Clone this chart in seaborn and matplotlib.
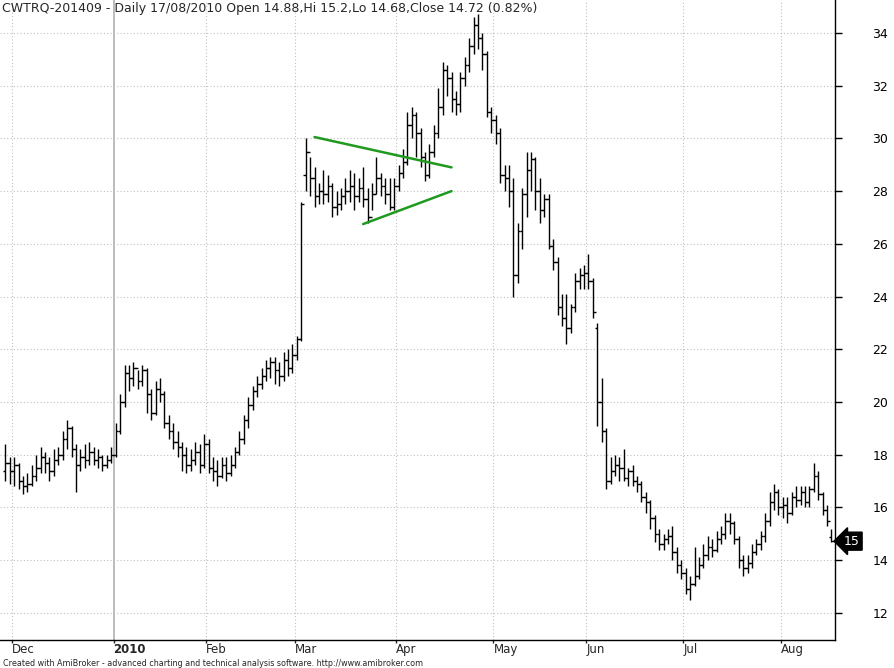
import matplotlib as mpl
mpl.use("Agg")
import matplotlib.pyplot as plt
import numpy as np
import pandas as pd
import seaborn as sns

# daily bars, month by month (Nov 2009 tail .. Aug 17 2010)
opens = [17.4, 17.7,
         17.4, 17.6, 17.0, 16.8, 16.9, 17.2, 17.5, 17.9, 17.7, 17.4, 17.8, 18.0, 18.6, 19.0, 18.2, 17.6, 17.9, 17.8, 18.1, 17.8, 17.9, 17.6, 17.8,
         18.0, 18.9, 20.0, 21.1, 20.9, 21.3, 20.8, 21.2, 20.3, 19.6, 20.5, 20.3, 19.2, 18.9, 18.5, 18.3, 18.0, 17.6, 17.8, 18.1, 17.6,
         18.4, 17.5, 17.4, 17.2, 17.6, 17.3, 17.6, 18.1, 18.6, 19.3, 19.9, 20.4, 20.7, 21.0, 21.3, 21.5, 21.2, 21.0, 21.6, 21.3,
         21.8, 22.4, 28.6, 29.5, 28.5, 27.8, 28.0, 27.9, 28.2, 27.4, 27.5, 27.8, 28.0, 28.2, 27.8, 28.1, 27.7, 27.0, 27.9, 28.5, 28.2, 27.9, 27.4,
         28.2, 28.7, 29.1, 30.5, 30.9, 30.2, 29.3, 28.6, 29.5, 30.2, 31.2, 32.6, 32.3, 31.5, 31.3, 32.3, 32.8, 33.5, 34.3, 33.8, 33.2, 31.0,
         30.7, 30.2, 28.6, 28.5, 28.0, 24.8, 26.5, 27.9, 28.8, 29.2, 28.0, 27.3, 27.7, 25.9, 25.3, 23.6, 23.2, 22.8, 23.6, 24.6, 24.8,
         24.9, 24.6, 22.8, 20.0, 18.9, 17.0, 17.4, 17.6, 17.5, 17.1, 17.4, 17.0, 16.9, 16.4, 16.2, 15.6, 15.0, 14.6, 14.8, 14.9, 14.3, 13.8,
         13.5, 12.9, 13.1, 13.4, 13.8, 14.2, 14.5, 14.4, 14.8, 15.0, 15.5, 15.4, 14.8, 14.0, 13.7, 13.9, 14.3, 14.6, 14.9, 15.5, 16.2, 16.6,
         16.0, 16.1, 15.8, 16.4, 16.3, 16.6, 16.2, 16.7, 17.2, 16.5, 15.9, 14.88]
highs = [18.4, 17.9,
         17.9, 17.7, 17.2, 17.3, 17.6, 18.0, 18.3, 18.1, 17.9, 18.2, 18.3, 18.9, 19.3, 19.1, 18.4, 18.2, 18.4, 18.5, 18.3, 18.2, 18.0, 18.0, 18.3,
         19.2, 20.3, 21.4, 21.4, 21.5, 21.2, 21.4, 21.3, 20.5, 20.8, 20.9, 20.4, 19.5, 19.2, 18.9, 18.5, 18.3, 18.2, 18.5, 18.4, 18.8,
         18.6, 17.9, 17.8, 17.9, 17.9, 18.0, 18.3, 18.9, 19.5, 20.2, 20.6, 21.0, 21.3, 21.6, 21.7, 21.7, 21.5, 21.9, 22.0, 22.2,
         22.5, 27.6, 30.0, 29.3, 28.9, 28.3, 28.8, 28.6, 28.3, 28.0, 28.1, 28.5, 28.8, 28.7, 28.5, 28.9, 28.1, 28.3, 29.3, 28.7, 28.5, 28.5, 28.5,
         29.0, 29.6, 31.0, 31.2, 31.0, 30.4, 29.5, 29.8, 30.5, 31.9, 32.9, 32.8, 32.5, 31.8, 32.5, 33.1, 33.8, 34.6, 34.7, 34.0, 33.3, 31.2,
         30.9, 30.4, 29.0, 29.0, 28.5, 26.8, 28.1, 29.5, 29.5, 29.3, 28.5, 27.9, 27.9, 26.2, 25.5, 24.1, 24.1, 23.7, 24.9, 25.1, 25.2,
         25.6, 24.7, 23.0, 20.9, 19.0, 17.9, 18.0, 17.9, 18.2, 17.5, 17.6, 17.2, 17.0, 16.6, 16.3, 15.7, 15.2, 15.0, 15.2, 15.3, 14.5, 14.0,
         13.7, 13.4, 14.5, 14.1, 14.6, 14.9, 14.8, 15.1, 15.3, 15.8, 15.8, 15.5, 14.9, 14.2, 14.2, 14.6, 14.8, 15.1, 15.8, 16.6, 16.9, 16.7,
         16.4, 16.4, 16.6, 16.8, 16.8, 16.8, 16.8, 17.7, 17.4, 16.6, 16.1, 15.2]
lows = [17.0, 16.9,
        16.8, 16.7, 16.5, 16.6, 16.8, 17.0, 17.3, 17.3, 17.0, 17.2, 17.6, 17.8, 18.2, 17.9, 16.6, 17.4, 17.5, 17.6, 17.6, 17.5, 17.4, 17.5, 17.7,
        17.9, 18.8, 19.8, 20.4, 20.6, 20.5, 20.6, 19.6, 19.3, 19.5, 20.0, 19.0, 18.6, 18.2, 17.9, 17.4, 17.3, 17.4, 17.6, 17.3, 17.5,
        17.3, 17.0, 16.8, 17.1, 17.0, 17.2, 17.5, 18.0, 18.4, 19.0, 19.7, 20.2, 20.5, 20.8, 20.9, 20.7, 20.6, 20.8, 21.0, 21.1,
        21.6, 22.3, 28.0, 27.8, 27.4, 27.5, 27.5, 27.6, 27.0, 27.1, 27.3, 27.5, 27.6, 27.3, 27.6, 27.4, 26.8, 27.3, 27.9, 27.8, 27.5, 27.3, 27.3,
        28.0, 28.5, 29.0, 30.0, 29.3, 28.9, 28.4, 28.5, 29.3, 30.0, 30.9, 31.6, 31.0, 30.9, 31.0, 32.0, 32.5, 33.2, 33.4, 32.6, 30.8, 30.2,
        29.8, 28.3, 28.0, 27.4, 24.0, 24.5, 25.8, 27.0, 28.0, 27.3, 26.8, 27.0, 25.8, 25.0, 23.3, 22.9, 22.2, 22.6, 23.4, 24.3, 24.3,
        24.3, 23.2, 19.1, 18.5, 16.7, 16.9, 17.2, 17.0, 17.0, 16.8, 16.8, 16.6, 16.2, 15.8, 15.2, 14.7, 14.4, 14.4, 14.6, 14.0, 13.5, 13.3,
        12.7, 12.5, 13.0, 13.3, 13.7, 14.0, 14.1, 14.3, 14.6, 14.8, 15.0, 14.6, 13.7, 13.4, 13.5, 13.7, 14.2, 14.4, 14.7, 15.3, 15.9, 15.7,
        15.6, 15.4, 15.7, 16.0, 16.1, 16.0, 16.0, 16.6, 16.3, 15.7, 15.3, 14.68]
closes = [17.7, 17.4,
          17.6, 17.0, 16.8, 16.9, 17.2, 17.5, 17.9, 17.7, 17.4, 17.8, 18.0, 18.6, 19.0, 18.2, 17.6, 17.9, 17.8, 18.1, 17.8, 17.9, 17.6, 17.8, 18.0,
          18.9, 20.0, 21.1, 20.9, 21.3, 20.8, 21.2, 20.3, 19.6, 20.5, 20.3, 19.2, 18.9, 18.5, 18.3, 18.0, 17.6, 17.8, 18.1, 17.6, 18.4,
          17.5, 17.4, 17.2, 17.6, 17.3, 17.6, 18.1, 18.6, 19.3, 19.9, 20.4, 20.7, 21.0, 21.3, 21.5, 21.2, 21.0, 21.6, 21.3, 21.8,
          22.4, 27.5, 29.5, 28.5, 27.8, 28.0, 27.9, 28.2, 27.4, 27.5, 27.8, 28.0, 28.2, 27.8, 28.1, 27.7, 27.0, 27.9, 28.5, 28.2, 27.9, 27.4, 28.2,
          28.7, 29.1, 30.5, 30.9, 30.2, 29.3, 28.6, 29.5, 30.2, 31.2, 32.6, 32.3, 31.5, 31.3, 32.3, 32.8, 33.5, 34.3, 33.8, 33.2, 31.0, 30.7,
          30.2, 28.6, 28.5, 28.0, 24.8, 26.5, 27.9, 28.8, 29.2, 28.0, 27.3, 27.7, 25.9, 25.3, 23.6, 23.2, 22.8, 23.6, 24.6, 24.8, 24.9,
          24.6, 23.4, 20.0, 18.9, 17.0, 17.4, 17.6, 17.5, 17.1, 17.4, 17.0, 16.9, 16.4, 16.2, 15.6, 15.0, 14.6, 14.8, 14.9, 14.3, 13.8, 13.5,
          12.9, 13.1, 13.4, 13.8, 14.2, 14.5, 14.4, 14.8, 15.0, 15.5, 15.4, 14.8, 14.0, 13.7, 13.9, 14.3, 14.6, 14.9, 15.5, 16.2, 16.6, 16.0,
          16.1, 15.8, 16.4, 16.3, 16.6, 16.2, 16.7, 17.2, 16.5, 15.9, 15.5, 14.72]

# triangle drawn on the chart (bar index, price)
upper_line = [(70, 30.05), (101, 28.9)]
lower_line = [(81, 26.75), (101, 28.0)]

month_labels = ["Dec", "2010", "Feb", "Mar", "Apr", "May", "Jun", "Jul", "Aug"]
price_ticks = [12, 14, 16, 18, 20, 22, 24, 26, 28, 30, 32, 34]

n = len(closes)
dates = pd.bdate_range(end="2010-08-17", periods=n)
df = pd.DataFrame({"date": dates, "open": opens, "high": highs, "low": lows, "close": closes})
df["idx"] = np.arange(n)

sns.set_theme(style="white")
plt.rcParams['font.family'] = ['DejaVu Sans']

fig = plt.figure(figsize=(8.94, 6.68), dpi=100)
ax = fig.add_axes([0.0, 1 - 640 / 668, 835 / 894, 640 / 668])

month_starts = df.groupby(df["date"].dt.to_period("M"))["idx"].min().values[1:]
for i, m in enumerate(month_starts):
    if month_labels[i] == "2010":
        ax.axvline(m - 0.5, color="#b0b0b0", lw=1.2, zorder=0)
    else:
        ax.axvline(m - 0.5, color="#c0c0c0", lw=0.8, ls=(0, (1, 2)), zorder=0)
for p in price_ticks:
    ax.axhline(p, color="#c0c0c0", lw=0.8, ls=(0, (1, 2)), zorder=0)

# OHLC bars
ax.vlines(df["idx"], df["low"], df["high"], color="black", lw=1.0)
ax.hlines(df["open"], df["idx"] - 0.6, df["idx"], color="black", lw=1.0)
ax.hlines(df["close"], df["idx"], df["idx"] + 0.6, color="black", lw=1.0)

for line in (upper_line, lower_line):
    seg = pd.DataFrame(line, columns=["x", "y"])
    sns.lineplot(data=seg, x="x", y="y", ax=ax, color="#1f9a1f", lw=1.8, legend=False)

ax.set_xlim(-1.2, n - 0.2)
ax.set_ylim(10.97, 35.25)
ax.set_xlabel("")
ax.set_ylabel("")
ax.yaxis.tick_right()
ax.set_yticks(price_ticks)
ax.set_yticklabels([str(p) for p in price_ticks], fontsize=9)
ax.tick_params(axis="y", direction="out", length=5, width=1, pad=22, right=True, colors="black")
ax.set_xticks(month_starts - 0.5)
ax.set_xticklabels(month_labels, fontsize=8.5, ha="left")
for lbl in ax.get_xticklabels():
    if lbl.get_text() == "2010":
        lbl.set_fontweight("bold")
ax.tick_params(axis="x", direction="out", length=2, width=1, pad=0, bottom=True)
for s in ax.spines.values():
    s.set_color("black")
    s.set_linewidth(1)
ax.spines["top"].set_visible(False)
ax.spines["left"].set_visible(False)

ax.text(0.002, 0.997, "CWTRQ-201409 - Daily 17/08/2010 Open 14.88,Hi 15.2,Lo 14.68,Close 14.72 (0.82%)",
        transform=ax.transAxes, fontsize=9, va="top", ha="left")

# last price marker
last = closes[-1]
ax.annotate("15", xy=(1.0, last), xycoords=("axes fraction", "data"), xytext=(12, 0),
            textcoords="offset points", color="white", fontsize=9, va="center", ha="center",
            bbox=dict(boxstyle="larrow,pad=0.2", fc="black", ec="black"))

fig.text(0.003, 0.0, "Created with AmiBroker - advanced charting and technical analysis software. http://www.amibroker.com",
         fontsize=5.8, ha="left", va="bottom")

fig.savefig("out.png", dpi=100)
